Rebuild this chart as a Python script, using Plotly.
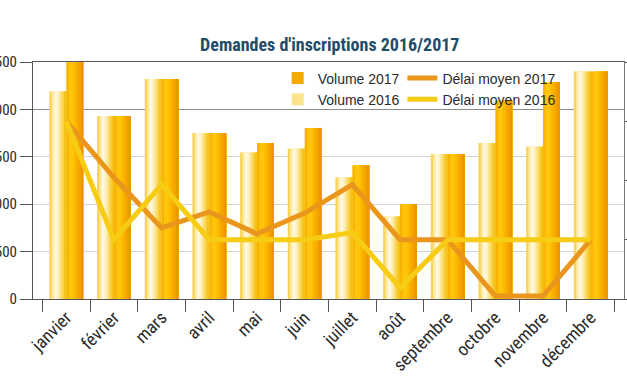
import plotly.graph_objects as go

# ---------------- data ----------------
months = ["janvier", "février", "mars", "avril", "mai", "juin", "juillet",
          "août", "septembre", "octobre", "novembre", "décembre"]
volume_2016 = [2190, 1930, 2320, 1750, 1545, 1585, 1285, 870, 1530, 1645, 1605, 2400]
volume_2017 = [2500, 1930, 2320, 1750, 1645, 1805, 1410, 1000, 1530, 2090, 2290, 2400]
delai_2017 = [3.0, 2.05, 1.2, 1.47, 1.1, 1.45, 1.93, 1.0, 1.0, 0.05, 0.05, 1.0]
delai_2016 = [3.0, 1.0, 1.93, 1.0, 1.0, 1.0, 1.12, 0.19, 1.0, 1.0, 1.0, 1.0]
left_ticks = [0, 500, 1000, 1500, 2000, 2500]
right_ticks = [0, 1, 2, 3, 4]

# ---------------- styles ----------------
TXT = "#2b2b2b"
NARROW = "Liberation Sans Narrow, Arial Narrow, Roboto Condensed, Liberation Sans, sans-serif"
REG = "Liberation Sans, Arial, sans-serif"
half = 0.355
shades_2016 = ["#F9D45A", "#FDEBA6", "#FFF8E2", "#FEF1C4", "#FCE38A", "#F9D34A", "#F5C21C"]
shades_2017 = ["#F8B400", "#FFC412", "#FFC60A", "#FDBB00", "#F8AE00", "#F3A200", "#EC9600"]

fig = go.Figure()

def add_gradient_bars(values, start, shades, name, rank, legend_color):
    n = len(shades)
    w = half / n
    for i, c in enumerate(shades):
        fig.add_trace(go.Bar(
            x=months, y=values, offset=start + i * w, width=half - i * w,
            marker=dict(color=c, line=dict(width=0)),
            name=name, showlegend=False, legend="legend", hoverinfo="skip"))
    # legend-only proxy
    fig.add_trace(go.Bar(
        x=months, y=[None] * len(months), name=name,
        marker=dict(color=legend_color, line=dict(width=0)),
        legend="legend", legendrank=rank, showlegend=True))

add_gradient_bars(volume_2016, -half, shades_2016, "Volume 2016", 2, "#FBE48C")
add_gradient_bars(volume_2017, 0.0, shades_2017, "Volume 2017", 1, "#F5A800")

fig.add_trace(go.Scatter(
    x=months, y=delai_2017, yaxis="y2", mode="lines", name="Délai moyen 2017",
    line=dict(color="#EA961C", width=5), legend="legend2", legendrank=1))
fig.add_trace(go.Scatter(
    x=months, y=delai_2016, yaxis="y2", mode="lines", name="Délai moyen 2016",
    line=dict(color="#F6CC14", width=5), legend="legend2", legendrank=2))

fig.update_layout(
    template="none",
    width=627, height=376,
    margin=dict(l=33, r=3, t=62, b=77),
    paper_bgcolor="white", plot_bgcolor="white",
    barmode="overlay",
    separators=", ",
    title=dict(text="<b>Demandes d'inscriptions 2016/2017</b>",
               x=0.526, xanchor="center", y=0.88, yanchor="middle",
               font=dict(family=NARROW, size=18, color="#1E4C6B")),
    xaxis=dict(
        type="category", tickson="boundaries", ticks="outside", ticklen=12,
        tickcolor="#555", tickwidth=1, tickangle=-45,
        showline=True, linecolor="#555", linewidth=1, mirror=True,
        showgrid=False, automargin=False,
        tickfont=dict(family=NARROW, size=18, color=TXT)),
    yaxis=dict(
        range=[0, 2500], tickvals=left_ticks, tickformat=",d",
        ticks="outside", ticklen=12, tickcolor="#555",
        showline=True, linecolor="#555", linewidth=1,
        showgrid=True, gridcolor="#d4d4d4", gridwidth=1, zeroline=False,
        automargin=False,
        tickfont=dict(family=NARROW, size=15, color=TXT)),
    yaxis2=dict(
        overlaying="y", side="right", range=[0, 4], tickvals=right_ticks,
        ticks="outside", ticklen=6, tickcolor="#555",
        showline=True, linecolor="#777", linewidth=1,
        showgrid=False, zeroline=False, showticklabels=False, automargin=False),
    yaxis3=dict(
        overlaying="y", range=[0, 2500], tickvals=[2000], showticklabels=False,
        showgrid=True, gridcolor="#8c8c8c", gridwidth=1, zeroline=False,
        showline=False, ticks="", automargin=False),
    legend=dict(x=0.414, y=0.998, xanchor="left", yanchor="top",
                bgcolor="rgba(0,0,0,0)", borderwidth=0, tracegroupgap=0,
                font=dict(family=REG, size=14, color=TXT)),
    legend2=dict(x=0.625, y=0.998, xanchor="left", yanchor="top",
                 bgcolor="rgba(0,0,0,0)", borderwidth=0, tracegroupgap=0,
                 font=dict(family=REG, size=14, color=TXT)),
)

# invisible trace to activate the dark 2000 grid axis
fig.add_trace(go.Scatter(x=months, y=[None] * len(months), yaxis="y3",
                         showlegend=False, hoverinfo="skip"))

fig.write_html("out.html",
               config={"displayModeBar": False},
               post_script="document.body.style.margin='0';document.body.style.overflow='hidden';")
